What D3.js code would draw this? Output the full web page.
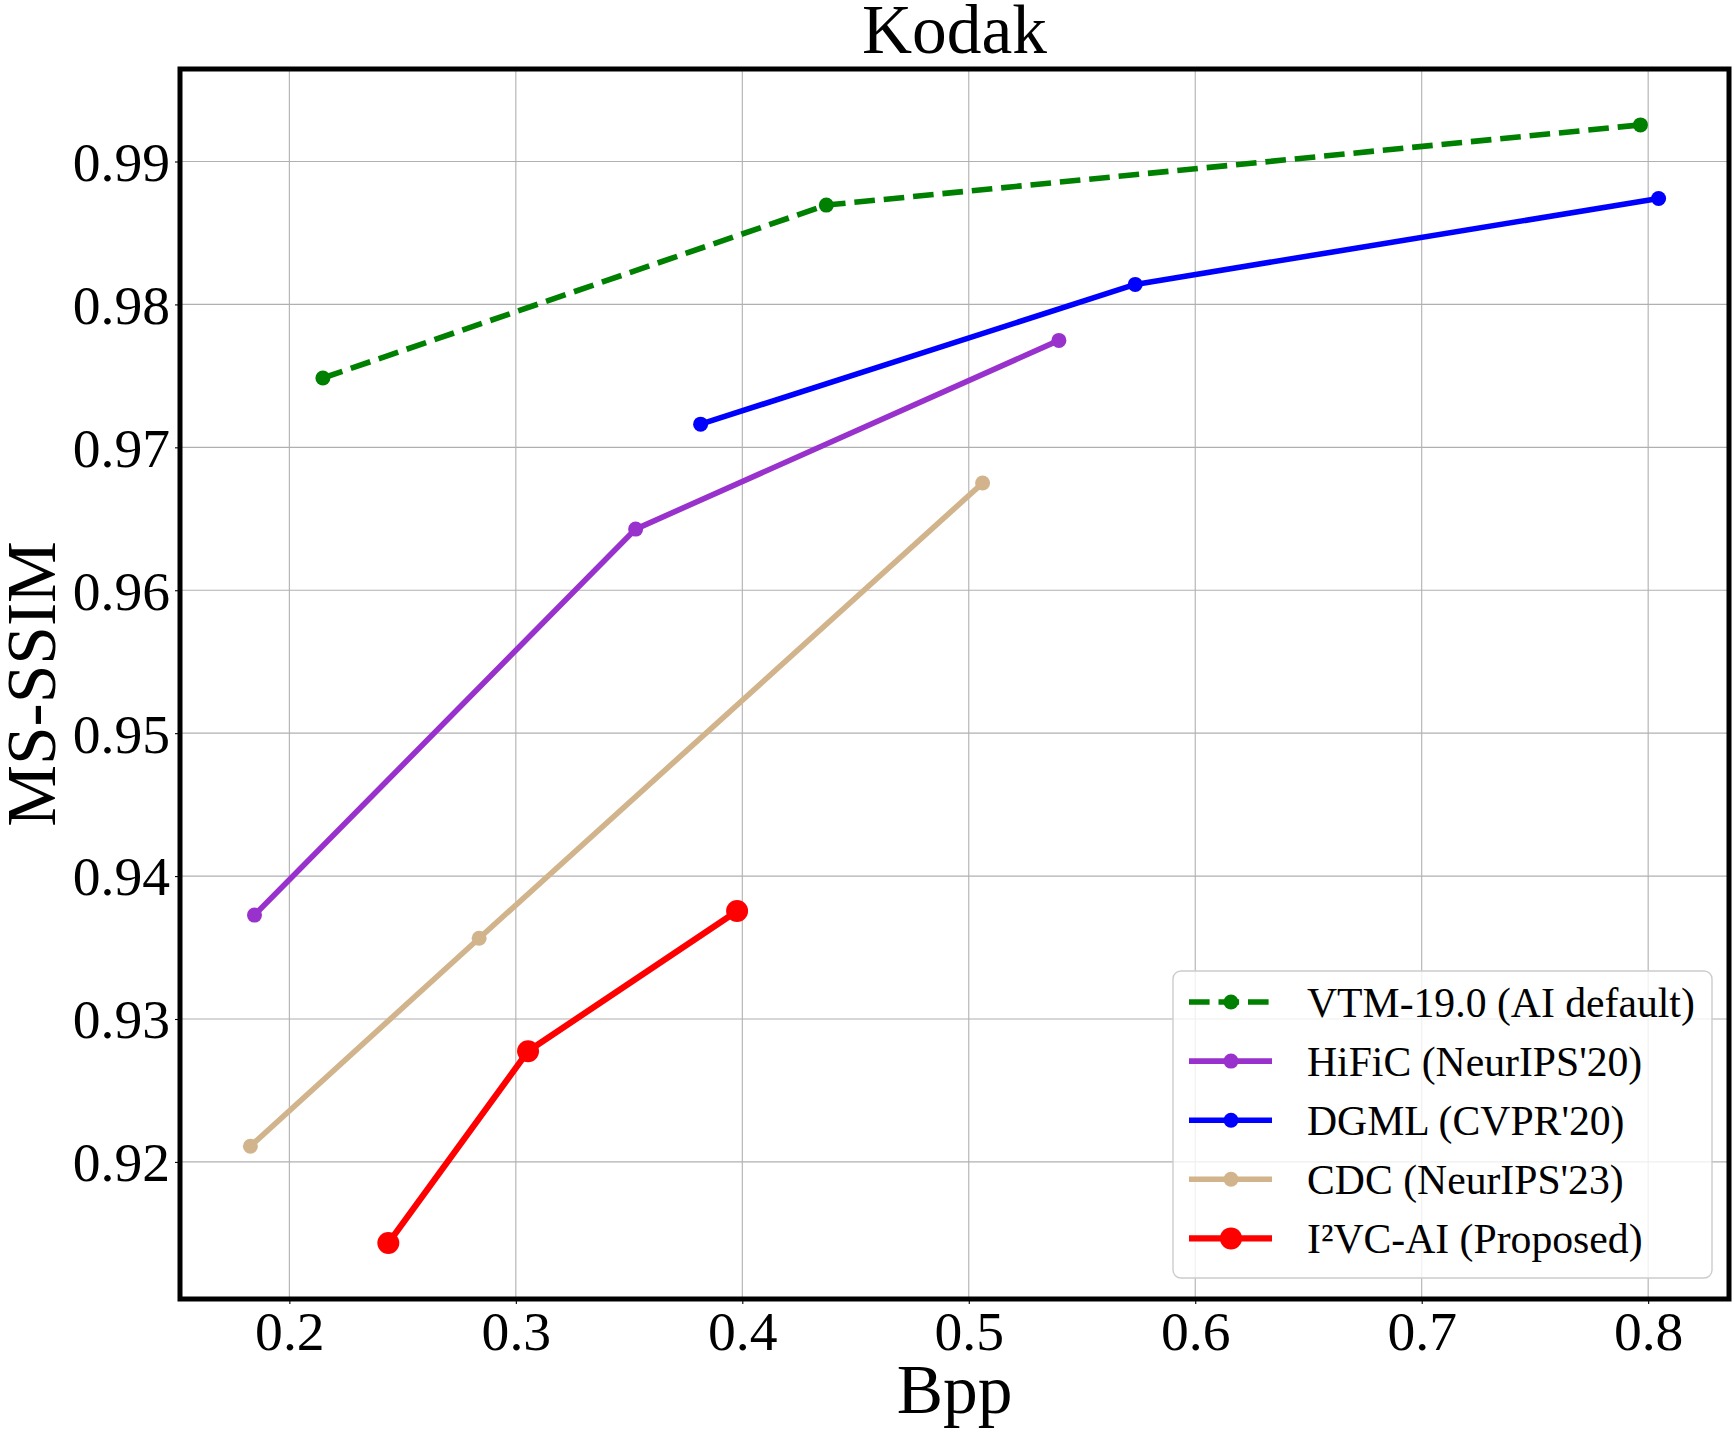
<!DOCTYPE html>
<html>
<head>
<meta charset="utf-8">
<script src="https://cdn.jsdelivr.net/npm/d3@7"></script>
<style>
    body { margin: 0; background: #fff; }
    svg text { font-family: "Liberation Serif", "Times New Roman", serif; fill: #000; }
</style>
</head>
<body>
<div id="chart"></div>
<script>
// Series (Bpp vs MS-SSIM on Kodak)
var seriesNames = ["VTM-19.0 (AI default)", "HiFiC (NeurIPS'20)", "DGML (CVPR'20)", "CDC (NeurIPS'23)", "I\u00B2VC-AI (Proposed)"];
var vtmBpp = [0.2148, 0.4371, 0.7966];
var vtmSsim = [0.97485, 0.98695, 0.99256];
var hificBpp = [0.1846, 0.3529, 0.5398];
var hificSsim = [0.93727, 0.96428, 0.97748];
var dgmlBpp = [0.3816, 0.5735, 0.8046];
var dgmlSsim = [0.97162, 0.98140, 0.98741];
var cdcBpp = [0.1828, 0.2838, 0.5061];
var cdcSsim = [0.92110, 0.93565, 0.96750];
var i2vcBpp = [0.2437, 0.3054, 0.3977];
var i2vcSsim = [0.91432, 0.92775, 0.93755];

var xTicks = [0.2, 0.3, 0.4, 0.5, 0.6, 0.7, 0.8];
var yTicks = [0.92, 0.93, 0.94, 0.95, 0.96, 0.97, 0.98, 0.99];

// styles per series
var colors = ["#008000", "#9932CC", "#0000FF", "#D2B48C", "#FF0000"];
var dashes = ["20.6,8.9", null, null, null, null];
var radius = [7.5, 7.5, 7.5, 7.5, 11];
var widths = [5.6, 5.6, 5.6, 5.6, 6.2];

var allBpp = [vtmBpp, hificBpp, dgmlBpp, cdcBpp, i2vcBpp];
var allSsim = [vtmSsim, hificSsim, dgmlSsim, cdcSsim, i2vcSsim];

var series = seriesNames.map(function(name, i) {
    return {
        name: name,
        points: allBpp[i].map(function(x, j) { return {x: x, y: allSsim[i][j]}; }),
        color: colors[i], dash: dashes[i], r: radius[i], w: widths[i]
    };
});

var W = 1735, H = 1434;
var margin = {left: 180, right: 6, top: 69, bottom: 135};
var width = W - margin.left - margin.right;
var height = H - margin.top - margin.bottom;

// matplotlib-style 5% padding around the data
function padExtent(arrs) {
    var flat = [].concat.apply([], arrs);
    var lo = d3.min(flat), hi = d3.max(flat), pad = (hi - lo) * 0.05;
    return [lo - pad, hi + pad];
}

var x = d3.scaleLinear().domain(padExtent(allBpp)).range([0, width]);
var y = d3.scaleLinear().domain(padExtent(allSsim)).range([height, 0]);

var svg = d3.select("#chart").append("svg")
    .attr("width", W)
    .attr("height", H);

var g = svg.append("g")
    .attr("transform", "translate(" + margin.left + "," + margin.top + ")");

// grid
g.append("g").selectAll("line").data(xTicks).enter().append("line")
    .attr("x1", function(d) { return x(d); }).attr("x2", function(d) { return x(d); })
    .attr("y1", 0).attr("y2", height)
    .attr("stroke", "#b0b0b0").attr("stroke-width", 1.1);
g.append("g").selectAll("line").data(yTicks).enter().append("line")
    .attr("y1", function(d) { return y(d); }).attr("y2", function(d) { return y(d); })
    .attr("x1", 0).attr("x2", width)
    .attr("stroke", "#b0b0b0").attr("stroke-width", 1.1);

// axes
var xAxis = g.append("g")
    .attr("transform", "translate(0," + height + ")")
    .call(d3.axisBottom(x).tickValues(xTicks).tickSize(5).tickPadding(10).tickFormat(d3.format("")));
var yAxis = g.append("g")
    .call(d3.axisLeft(y).tickValues(yTicks).tickSize(5).tickPadding(5).tickFormat(d3.format("")));

[xAxis, yAxis].forEach(function(a) {
    a.select(".domain").remove();
    a.selectAll(".tick line").attr("stroke", "#000").attr("stroke-width", 1.1);
    a.selectAll(".tick text")
        .attr("font-family", "Liberation Serif, Times New Roman, serif")
        .style("font-size", "55.6px");
});
xAxis.selectAll(".tick text").attr("dy", null).attr("y", 51);
yAxis.selectAll(".tick text").attr("dy", "0.34em");

// lines and markers
var line = d3.line().x(function(d) { return x(d.x); }).y(function(d) { return y(d.y); });

series.forEach(function(s) {
    g.append("path")
        .datum(s.points)
        .attr("d", line)
        .attr("fill", "none")
        .attr("stroke", s.color)
        .attr("stroke-width", s.w)
        .attr("stroke-dasharray", s.dash)
        .attr("stroke-linejoin", "round");
    g.append("g").selectAll("circle").data(s.points).enter().append("circle")
        .attr("cx", function(d) { return x(d.x); })
        .attr("cy", function(d) { return y(d.y); })
        .attr("r", s.r)
        .attr("fill", s.color);
});

// frame
g.append("rect")
    .attr("width", width).attr("height", height)
    .attr("fill", "none").attr("stroke", "#000").attr("stroke-width", 5);

// title and axis labels
svg.append("text")
    .attr("x", margin.left + width / 2).attr("y", 53)
    .attr("text-anchor", "middle")
    .style("font-size", "69.4px")
    .text("Kodak");
svg.append("text")
    .attr("x", margin.left + width / 2).attr("y", 1413)
    .attr("text-anchor", "middle")
    .style("font-size", "69.4px")
    .text("Bpp");
svg.append("text")
    .attr("transform", "translate(55," + (margin.top + height / 2) + ") rotate(-90)")
    .attr("text-anchor", "middle")
    .style("font-size", "69.4px")
    .text("MS-SSIM");

// legend
var legend = svg.append("g").attr("transform", "translate(1173,971)");
legend.append("rect")
    .attr("width", 539).attr("height", 307)
    .attr("rx", 8).attr("ry", 8)
    .attr("fill", "#fff").attr("fill-opacity", 0.8)
    .attr("stroke", "#cccccc").attr("stroke-width", 1.4);

var rows = legend.selectAll(".legend_row").data(series).enter().append("g")
    .attr("class", "legend_row")
    .attr("transform", function(d, i) { return "translate(0," + (31 + i * 59.1) + ")"; });
rows.append("line")
    .attr("x1", 16).attr("x2", 99)
    .attr("stroke", function(d) { return d.color; })
    .attr("stroke-width", function(d) { return d.w; })
    .attr("stroke-dasharray", function(d) { return d.dash; });
rows.append("circle")
    .attr("cx", 58).attr("r", function(d) { return d.r; })
    .attr("fill", function(d) { return d.color; });
rows.append("text")
    .attr("x", 134).attr("y", 15)
    .style("font-size", "41.7px")
    .text(function(d) { return d.name; });
</script>
</body>
</html>
